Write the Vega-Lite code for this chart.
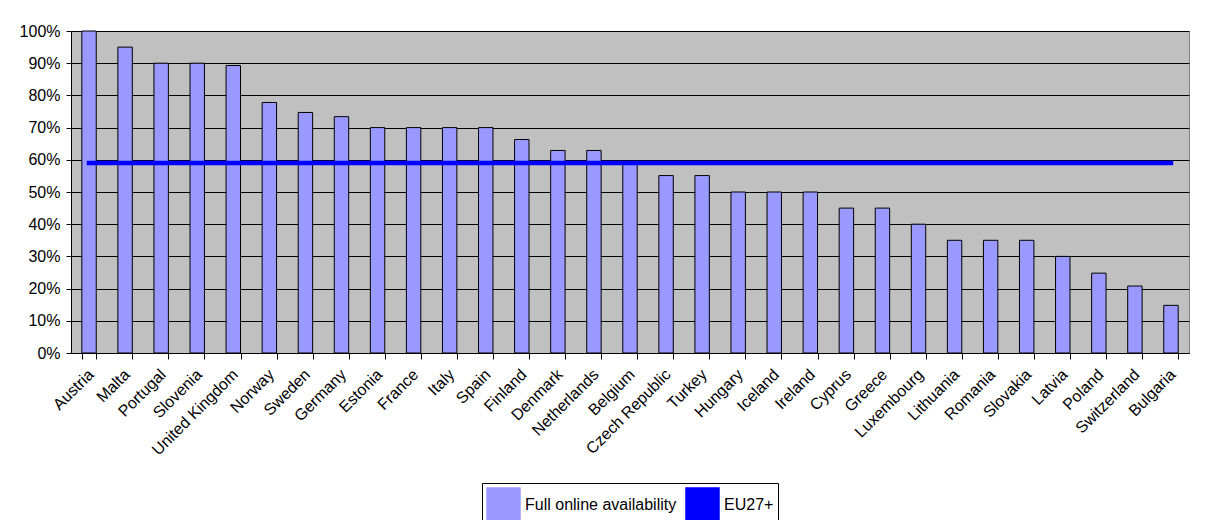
{
  "$schema": "https://vega.github.io/schema/vega-lite/v6.json",
  "width": 1118,
  "height": 322,
  "autosize": {"type": "none"},
  "padding": {"left": 71, "top": 31, "right": 22, "bottom": 167},
  "background": "white",
  "config": {
    "font": "Liberation Sans",
    "view": {"fill": "#C0C0C0", "stroke": "#808080", "strokeWidth": 1},
    "axis": {"labelFont": "Liberation Sans", "labelColor": "black", "domainColor": "black", "tickColor": "black", "gridColor": "black", "gridOpacity": 1, "domainWidth": 1, "tickWidth": 1, "gridWidth": 1}
  },
  "data": {
    "values": [
      {"country": "Austria", "value": 1.0, "eu27": 0.59},
      {"country": "Malta", "value": 0.95, "eu27": 0.59},
      {"country": "Portugal", "value": 0.90, "eu27": 0.59},
      {"country": "Slovenia", "value": 0.90, "eu27": 0.59},
      {"country": "United Kingdom", "value": 0.893, "eu27": 0.59},
      {"country": "Norway", "value": 0.778, "eu27": 0.59},
      {"country": "Sweden", "value": 0.747, "eu27": 0.59},
      {"country": "Germany", "value": 0.734, "eu27": 0.59},
      {"country": "Estonia", "value": 0.70, "eu27": 0.59},
      {"country": "France", "value": 0.70, "eu27": 0.59},
      {"country": "Italy", "value": 0.70, "eu27": 0.59},
      {"country": "Spain", "value": 0.70, "eu27": 0.59},
      {"country": "Finland", "value": 0.663, "eu27": 0.59},
      {"country": "Denmark", "value": 0.629, "eu27": 0.59},
      {"country": "Netherlands", "value": 0.629, "eu27": 0.59},
      {"country": "Belgium", "value": 0.59, "eu27": 0.59},
      {"country": "Czech Republic", "value": 0.551, "eu27": 0.59},
      {"country": "Turkey", "value": 0.551, "eu27": 0.59},
      {"country": "Hungary", "value": 0.50, "eu27": 0.59},
      {"country": "Iceland", "value": 0.50, "eu27": 0.59},
      {"country": "Ireland", "value": 0.50, "eu27": 0.59},
      {"country": "Cyprus", "value": 0.45, "eu27": 0.59},
      {"country": "Greece", "value": 0.45, "eu27": 0.59},
      {"country": "Luxembourg", "value": 0.40, "eu27": 0.59},
      {"country": "Lithuania", "value": 0.35, "eu27": 0.59},
      {"country": "Romania", "value": 0.35, "eu27": 0.59},
      {"country": "Slovakia", "value": 0.35, "eu27": 0.59},
      {"country": "Latvia", "value": 0.30, "eu27": 0.59},
      {"country": "Poland", "value": 0.248, "eu27": 0.59},
      {"country": "Switzerland", "value": 0.208, "eu27": 0.59},
      {"country": "Bulgaria", "value": 0.148, "eu27": 0.59}
    ]
  },
  "encoding": {
    "x": {
      "field": "country",
      "type": "nominal",
      "sort": null,
      "scale": {"paddingInner": 0.6, "paddingOuter": 0.3},
      "axis": {"title": null, "labelAngle": -45, "labelFontSize": 16, "tickBand": "extent", "tickSize": 6, "labelPadding": 7, "labelOffset": -4, "grid": false}
    }
  },
  "layer": [
    {
      "mark": {"type": "bar", "stroke": "black", "strokeWidth": 1, "opacity": 1},
      "encoding": {
        "y": {
          "field": "value",
          "type": "quantitative",
          "scale": {"domain": [0, 1]},
          "axis": {"title": null, "format": ".0%", "values": [0, 0.1, 0.2, 0.3, 0.4, 0.5, 0.6, 0.7, 0.8, 0.9, 1.0], "labelFontSize": 16, "tickSize": 5, "labelPadding": 6, "grid": true, "labelOverlap": false}
        },
        "color": {
          "datum": "Full online availability",
          "scale": {"domain": ["Full online availability", "EU27+"], "range": ["#9999FF", "#0000FF"]},
          "legend": {
            "title": null,
            "orient": "none",
            "legendX": 411,
            "legendY": 452,
            "direction": "horizontal",
            "strokeColor": "black",
            "fillColor": "white",
            "padding": 4,
            "labelFontSize": 16,
            "labelFont": "Liberation Sans",
            "labelColor": "black",
            "symbolSize": 1089,
            "labelOffset": 4,
            "columnPadding": 6,
            "encode": {
              "symbols": {
                "update": {
                  "shape": {"signal": "datum.value === 'EU27+' ? 'M-1.15,0H1.15' : 'M-1,-0.22H1V0.22H-1Z'"},
                  "fill": {"signal": "datum.value === 'EU27+' ? 'transparent' : '#9999FF'"},
                  "stroke": {"signal": "datum.value === 'EU27+' ? '#0000FF' : 'black'"},
                  "strokeWidth": {"signal": "datum.value === 'EU27+' ? 3 : 1"},
                  "size": {"value": 1089},
                  "opacity": {"value": 1}
                }
              }
            }
          }
        }
      }
    },
    {
      "mark": {"type": "line", "strokeWidth": 4.5, "strokeCap": "square"},
      "encoding": {
        "y": {
          "field": "eu27",
          "type": "quantitative",
          "axis": {"title": null, "format": ".0%", "values": [0, 0.1, 0.2, 0.3, 0.4, 0.5, 0.6, 0.7, 0.8, 0.9, 1.0], "labelFontSize": 16, "tickSize": 5, "labelPadding": 6, "grid": true, "labelOverlap": false}
        },
        "color": {"datum": "EU27+", "legend": null}
      }
    }
  ]
}
